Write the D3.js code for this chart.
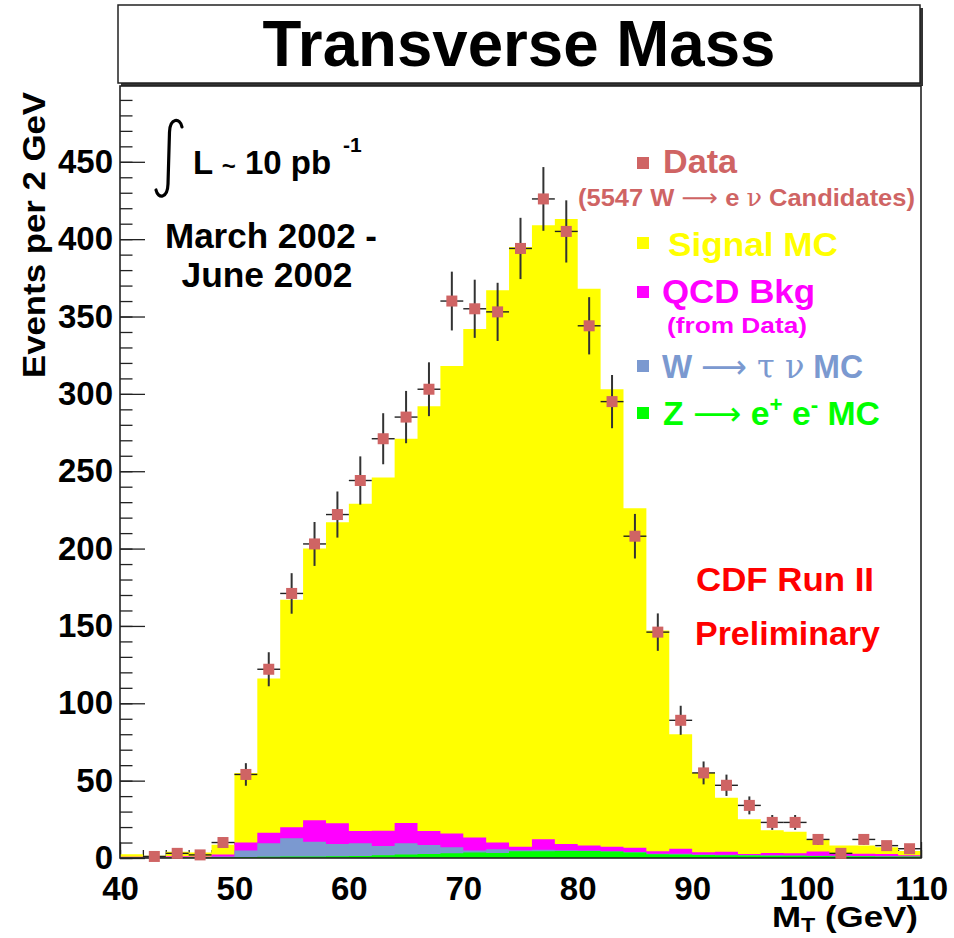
<!DOCTYPE html>
<html>
<head>
<meta charset="utf-8">
<script src="https://cdn.jsdelivr.net/npm/d3@7"></script>
<style>
  html, body { margin: 0; padding: 0; background: #fff; }
  svg { display: block; font-family: "Liberation Sans", Arial, Helvetica, sans-serif; font-weight: bold; }
</style>
</head>
<body>
<svg id="chart" width="954" height="938"></svg>
<script>
// Transverse mass, 2 GeV bins from 40 to 110 GeV
const binCenters = d3.range(41, 110, 2);
const binWidth = 2;

// Observed events per bin and their uncertainties
const dataCounts = [0, 1, 3, 2, 10, 54, 122, 171, 203, 222, 244, 271, 285, 303, 360, 355, 353, 394, 426, 405,
                    344, 295, 208, 146, 89, 55, 47, 34, 23, 23, 12, 3, 12, 8, 6];
const dataErrors = [0, 1, 1.7, 1.4, 3.2, 7.3, 11, 13.1, 14.2, 14.9, 15.6, 16.5, 16.9, 17.4, 19, 18.8, 18.8, 19.8, 20.6, 20.1,
                    18.5, 17.2, 14.4, 12.1, 9.4, 7.4, 6.9, 5.8, 4.8, 4.8, 3.5, 1.7, 3.5, 2.8, 2.4];

// Stacked expectations (bottom to top)
const zeeMC = [0.2, 0.2, 0.3, 0.3, 0.4, 0.7, 0.8, 0.9, 1.0, 1.1, 1.3, 1.8, 2.3, 2.6, 3.0, 3.6, 3.2, 4.3, 4.4, 4.6,
               4.5, 4.2, 3.6, 2.4, 2.3, 2.0, 1.8, 1.6, 1.5, 1.4, 1.3, 1.2, 1.1, 1.0, 0.9];
const wtaunuMC = [0.2, 0.1, 0.3, 0.2, 0.6, 4.1, 8.7, 11.9, 9.5, 7.9, 8.2, 6.0, 7.2, 5.8, 4.0, 1.2, 2.4, 0.7, 1.0, 0.4,
                  0.3, 0.2, 0.3, 0.4, 0.4, 0.3, 0.3, 0.3, 0.3, 0.2, 0.2, 0.2, 0.2, 0.2, 0.1];
const qcdBkg = [0.4, 0.3, 0.6, 0.5, 1.2, 5.2, 6.9, 7.1, 13.9, 13.5, 8.0, 9.8, 13.1, 9.1, 8.9, 8.4, 4.4, 2.3, 6.8, 4.1,
                3.2, 2.9, 2.8, 1.5, 3.2, 1.4, 2.0, 0.7, 1.4, 1.4, 2.7, 1.6, 1.5, 1.4, 0.8];
const signalMC = [1.7, 0.9, 2.8, 2.5, 6.3, 45, 99.6, 147.1, 175.6, 194.5, 211.5, 228.4, 248.4, 274.5, 302.1, 328.8, 357, 387.7, 396.8, 403.9,
                  360, 295.7, 219.3, 142.7, 74.1, 51.3, 34.9, 22.4, 14.8, 14, 7.8, 5, 5.2, 4.4, 2.7];

// Axis ticks
const yMajorTicks = [0, 50, 100, 150, 200, 250, 300, 350, 400, 450];
const xMajorTicks = [40, 50, 60, 70, 80, 90, 100, 110];

const seriesKeys = ["zee", "wtau", "qcd", "signal"];
const seriesColors = { zee: "#00ff00", wtau: "#7b99d0", qcd: "#ff00ff", signal: "#ffff00" };
const dataColor = "#cf6464";

const svg = d3.select("#chart");
const plotLeft = 120, plotRight = 921, plotTop = 86, plotBottom = 858;

const x = d3.scaleLinear().domain([40, 110]).range([plotLeft, plotRight]);
const y = d3.scaleLinear().domain([0, 499]).range([plotBottom, plotTop]);

// ---- title box with drop shadow ----
svg.append("rect").attr("x", 121).attr("y", 8).attr("width", 802).attr("height", 78).attr("fill", "#333");
svg.append("rect").attr("x", 118).attr("y", 5).attr("width", 802).attr("height", 78)
  .attr("fill", "#fff").attr("stroke", "#222").attr("stroke-width", 1.5);
svg.append("text").attr("x", 519).attr("y", 66).attr("text-anchor", "middle")
  .attr("font-size", 64).attr("textLength", 513).attr("lengthAdjust", "spacingAndGlyphs")
  .text("Transverse Mass");

// ---- x ticks (drawn below the histograms) ----
const gx = svg.append("g").attr("transform", `translate(0,${plotBottom})`);
gx.call(d3.axisBottom(x).tickValues(d3.range(40, 111, 2)).tickSize(-8).tickFormat(""));
gx.append("g").call(d3.axisBottom(x).tickValues(xMajorTicks).tickSize(-16).tickPadding(19).tickFormat(d3.format("d")));
gx.selectAll(".domain").remove();
gx.selectAll("line").attr("stroke", "#222").attr("stroke-width", 1.3);
gx.selectAll("text").attr("font-size", 33).attr("font-family", "Liberation Sans, Arial, sans-serif")
  .attr("font-weight", "bold").attr("fill", "#000");

// ---- stacked histograms ----
const rows = binCenters.map((c, i) => ({
  center: c, zee: zeeMC[i], wtau: wtaunuMC[i], qcd: qcdBkg[i], signal: signalMC[i]
}));
const stacked = d3.stack().keys(seriesKeys)(rows);
const stepArea = d3.area().x(p => x(p.x)).y0(p => y(p.y0)).y1(p => y(p.y1));

// Top layer first so each filled step area starts from zero and lower layers paint over it
const cumulative = stacked.map(layer => layer.map(d => d[1]));
for (let k = stacked.length - 1; k >= 0; k--) {
  const steps = [];
  rows.forEach((r, i) => {
    const v = cumulative[k][i];
    steps.push({ x: r.center - binWidth / 2, y0: 0, y1: v });
    steps.push({ x: r.center + binWidth / 2, y0: 0, y1: v });
  });
  svg.append("path").attr("d", stepArea(steps)).attr("fill", seriesColors[seriesKeys[k]]);
}

// ---- y axis ----
const gy = svg.append("g").attr("transform", `translate(${plotLeft},0)`);
gy.call(d3.axisLeft(y).tickValues(d3.range(0, 500, 10)).tickSize(-12.5).tickFormat(""));
gy.append("g").call(d3.axisLeft(y).tickValues(yMajorTicks).tickSize(-25).tickPadding(7).tickFormat(d3.format("d")));
gy.selectAll(".domain").remove();
gy.selectAll("line").attr("stroke", "#222").attr("stroke-width", 1.3);
gy.selectAll("text").attr("font-size", 33).attr("font-family", "Liberation Sans, Arial, sans-serif")
  .attr("font-weight", "bold").attr("fill", "#000");

// ---- frame ----
svg.append("rect").attr("x", plotLeft).attr("y", plotTop).attr("width", plotRight - plotLeft).attr("height", plotBottom - plotTop)
  .attr("fill", "none").attr("stroke", "#222").attr("stroke-width", 1.6);

// ---- data points with error bars ----
const pts = binCenters.map((c, i) => ({ c, n: dataCounts[i], e: dataErrors[i] })).filter(d => d.n > 0);
const gd = svg.append("g");
gd.selectAll("line.h").data(pts).join("line").attr("class", "h")
  .attr("x1", d => x(d.c - 1)).attr("x2", d => x(d.c + 1))
  .attr("y1", d => y(d.n)).attr("y2", d => y(d.n))
  .attr("stroke", "#222").attr("stroke-width", 1.4);
gd.selectAll("line.v").data(pts).join("line").attr("class", "v")
  .attr("x1", d => x(d.c)).attr("x2", d => x(d.c))
  .attr("y1", d => y(d.n - d.e)).attr("y2", d => y(d.n + d.e))
  .attr("stroke", "#333").attr("stroke-width", 2);
gd.selectAll("rect").data(pts).join("rect")
  .attr("x", d => x(d.c) - 5.5).attr("y", d => y(d.n) - 5.5)
  .attr("width", 11).attr("height", 11).attr("fill", dataColor);

// ---- axis titles ----
svg.append("text").attr("transform", "translate(45,92) rotate(-90)").attr("text-anchor", "end")
  .attr("font-size", 32).attr("textLength", 286).attr("lengthAdjust", "spacingAndGlyphs")
  .text("Events per 2 GeV");
const xt = svg.append("text").attr("x", 772).attr("y", 927).attr("font-size", 30)
  .attr("textLength", 146).attr("lengthAdjust", "spacingAndGlyphs");
xt.append("tspan").text("M");
xt.append("tspan").attr("font-size", 20).attr("dy", 5).text("T");
xt.append("tspan").attr("dy", -5).text(" (GeV)");

// ---- luminosity and run period ----
svg.append("path")
  .attr("d", "M182,127 C180,117 170,118 169.5,132 L168,184 C167.5,199 158,199 156,190")
  .attr("fill", "none").attr("stroke", "#000").attr("stroke-width", 3.2).attr("stroke-linecap", "round");
const lum = svg.append("text").attr("x", 193).attr("y", 174).attr("font-size", 33);
lum.append("tspan").text("L ");
lum.append("tspan").attr("font-size", 24).text("~");
lum.append("tspan").text(" 10 pb");
lum.append("tspan").attr("font-size", 21).attr("dx", 12).attr("dy", -22).text("-1");
svg.append("text").attr("x", 271).attr("y", 248).attr("text-anchor", "middle").attr("font-size", 35)
  .attr("textLength", 212).attr("lengthAdjust", "spacingAndGlyphs").text("March 2002 -");
svg.append("text").attr("x", 267).attr("y", 287).attr("text-anchor", "middle").attr("font-size", 35)
  .attr("textLength", 171).attr("lengthAdjust", "spacingAndGlyphs").text("June 2002");

// ---- legend ----
const legendMarkers = [
  { color: dataColor, cy: 163 },
  { color: seriesColors.signal, cy: 243 },
  { color: seriesColors.qcd, cy: 292 },
  { color: seriesColors.wtau, cy: 366 },
  { color: seriesColors.zee, cy: 413 }
];
legendMarkers.forEach(l => {
  svg.append("rect").attr("x", 637).attr("y", l.cy - 6).attr("width", 12).attr("height", 12).attr("fill", l.color);
});
svg.append("text").attr("x", 663).attr("y", 173).attr("font-size", 33).attr("fill", dataColor)
  .attr("textLength", 74).attr("lengthAdjust", "spacingAndGlyphs").text("Data");
const cand = svg.append("text").attr("x", 578).attr("y", 206)
  .attr("font-size", 24).attr("fill", dataColor)
  .attr("textLength", 337).attr("lengthAdjust", "spacingAndGlyphs");
cand.append("tspan").text("(5547 W ");
cand.append("tspan").attr("font-weight", "normal").attr("font-family", "DejaVu Sans, sans-serif").text("\u27f6");
cand.append("tspan").text(" e ");
cand.append("tspan").attr("font-weight", "normal").attr("font-family", "DejaVu Serif, serif").text("\u03bd");
cand.append("tspan").text(" Candidates)");

svg.append("text").attr("x", 668).attr("y", 256).attr("font-size", 33).attr("fill", seriesColors.signal)
  .attr("textLength", 170).attr("lengthAdjust", "spacingAndGlyphs").text("Signal MC");
svg.append("text").attr("x", 662).attr("y", 303).attr("font-size", 33).attr("fill", seriesColors.qcd)
  .attr("textLength", 153).attr("lengthAdjust", "spacingAndGlyphs").text("QCD Bkg");
svg.append("text").attr("x", 667).attr("y", 333).attr("font-size", 22).attr("fill", seriesColors.qcd)
  .attr("textLength", 140).attr("lengthAdjust", "spacingAndGlyphs").text("(from Data)");

const wt = svg.append("text").attr("x", 662).attr("y", 378).attr("font-size", 33).attr("fill", seriesColors.wtau)
  .attr("textLength", 201).attr("lengthAdjust", "spacingAndGlyphs");
wt.append("tspan").text("W ");
wt.append("tspan").attr("font-weight", "normal").attr("font-family", "DejaVu Sans, sans-serif").text("\u27f6");
wt.append("tspan").attr("font-weight", "normal").attr("font-family", "DejaVu Serif, serif").text(" \u03c4 \u03bd");
wt.append("tspan").text(" MC");

const zt = svg.append("text").attr("x", 663).attr("y", 425).attr("font-size", 33).attr("fill", seriesColors.zee)
  .attr("textLength", 217).attr("lengthAdjust", "spacingAndGlyphs");
zt.append("tspan").text("Z ");
zt.append("tspan").attr("font-weight", "normal").attr("font-family", "DejaVu Sans, sans-serif").text("\u27f6");
zt.append("tspan").text(" e");
zt.append("tspan").attr("font-size", 22).attr("dy", -13).text("+");
zt.append("tspan").attr("dy", 13).text(" e");
zt.append("tspan").attr("font-size", 22).attr("dy", -13).text("-");
zt.append("tspan").attr("dy", 13).text(" MC");

// ---- experiment label ----
svg.append("text").attr("x", 696).attr("y", 591).attr("font-size", 33)
  .attr("fill", "#ff0000").attr("textLength", 178).attr("lengthAdjust", "spacingAndGlyphs").text("CDF Run II");
svg.append("text").attr("x", 695).attr("y", 645).attr("font-size", 33)
  .attr("fill", "#ff0000").attr("textLength", 185).attr("lengthAdjust", "spacingAndGlyphs").text("Preliminary");
</script>
</body>
</html>
